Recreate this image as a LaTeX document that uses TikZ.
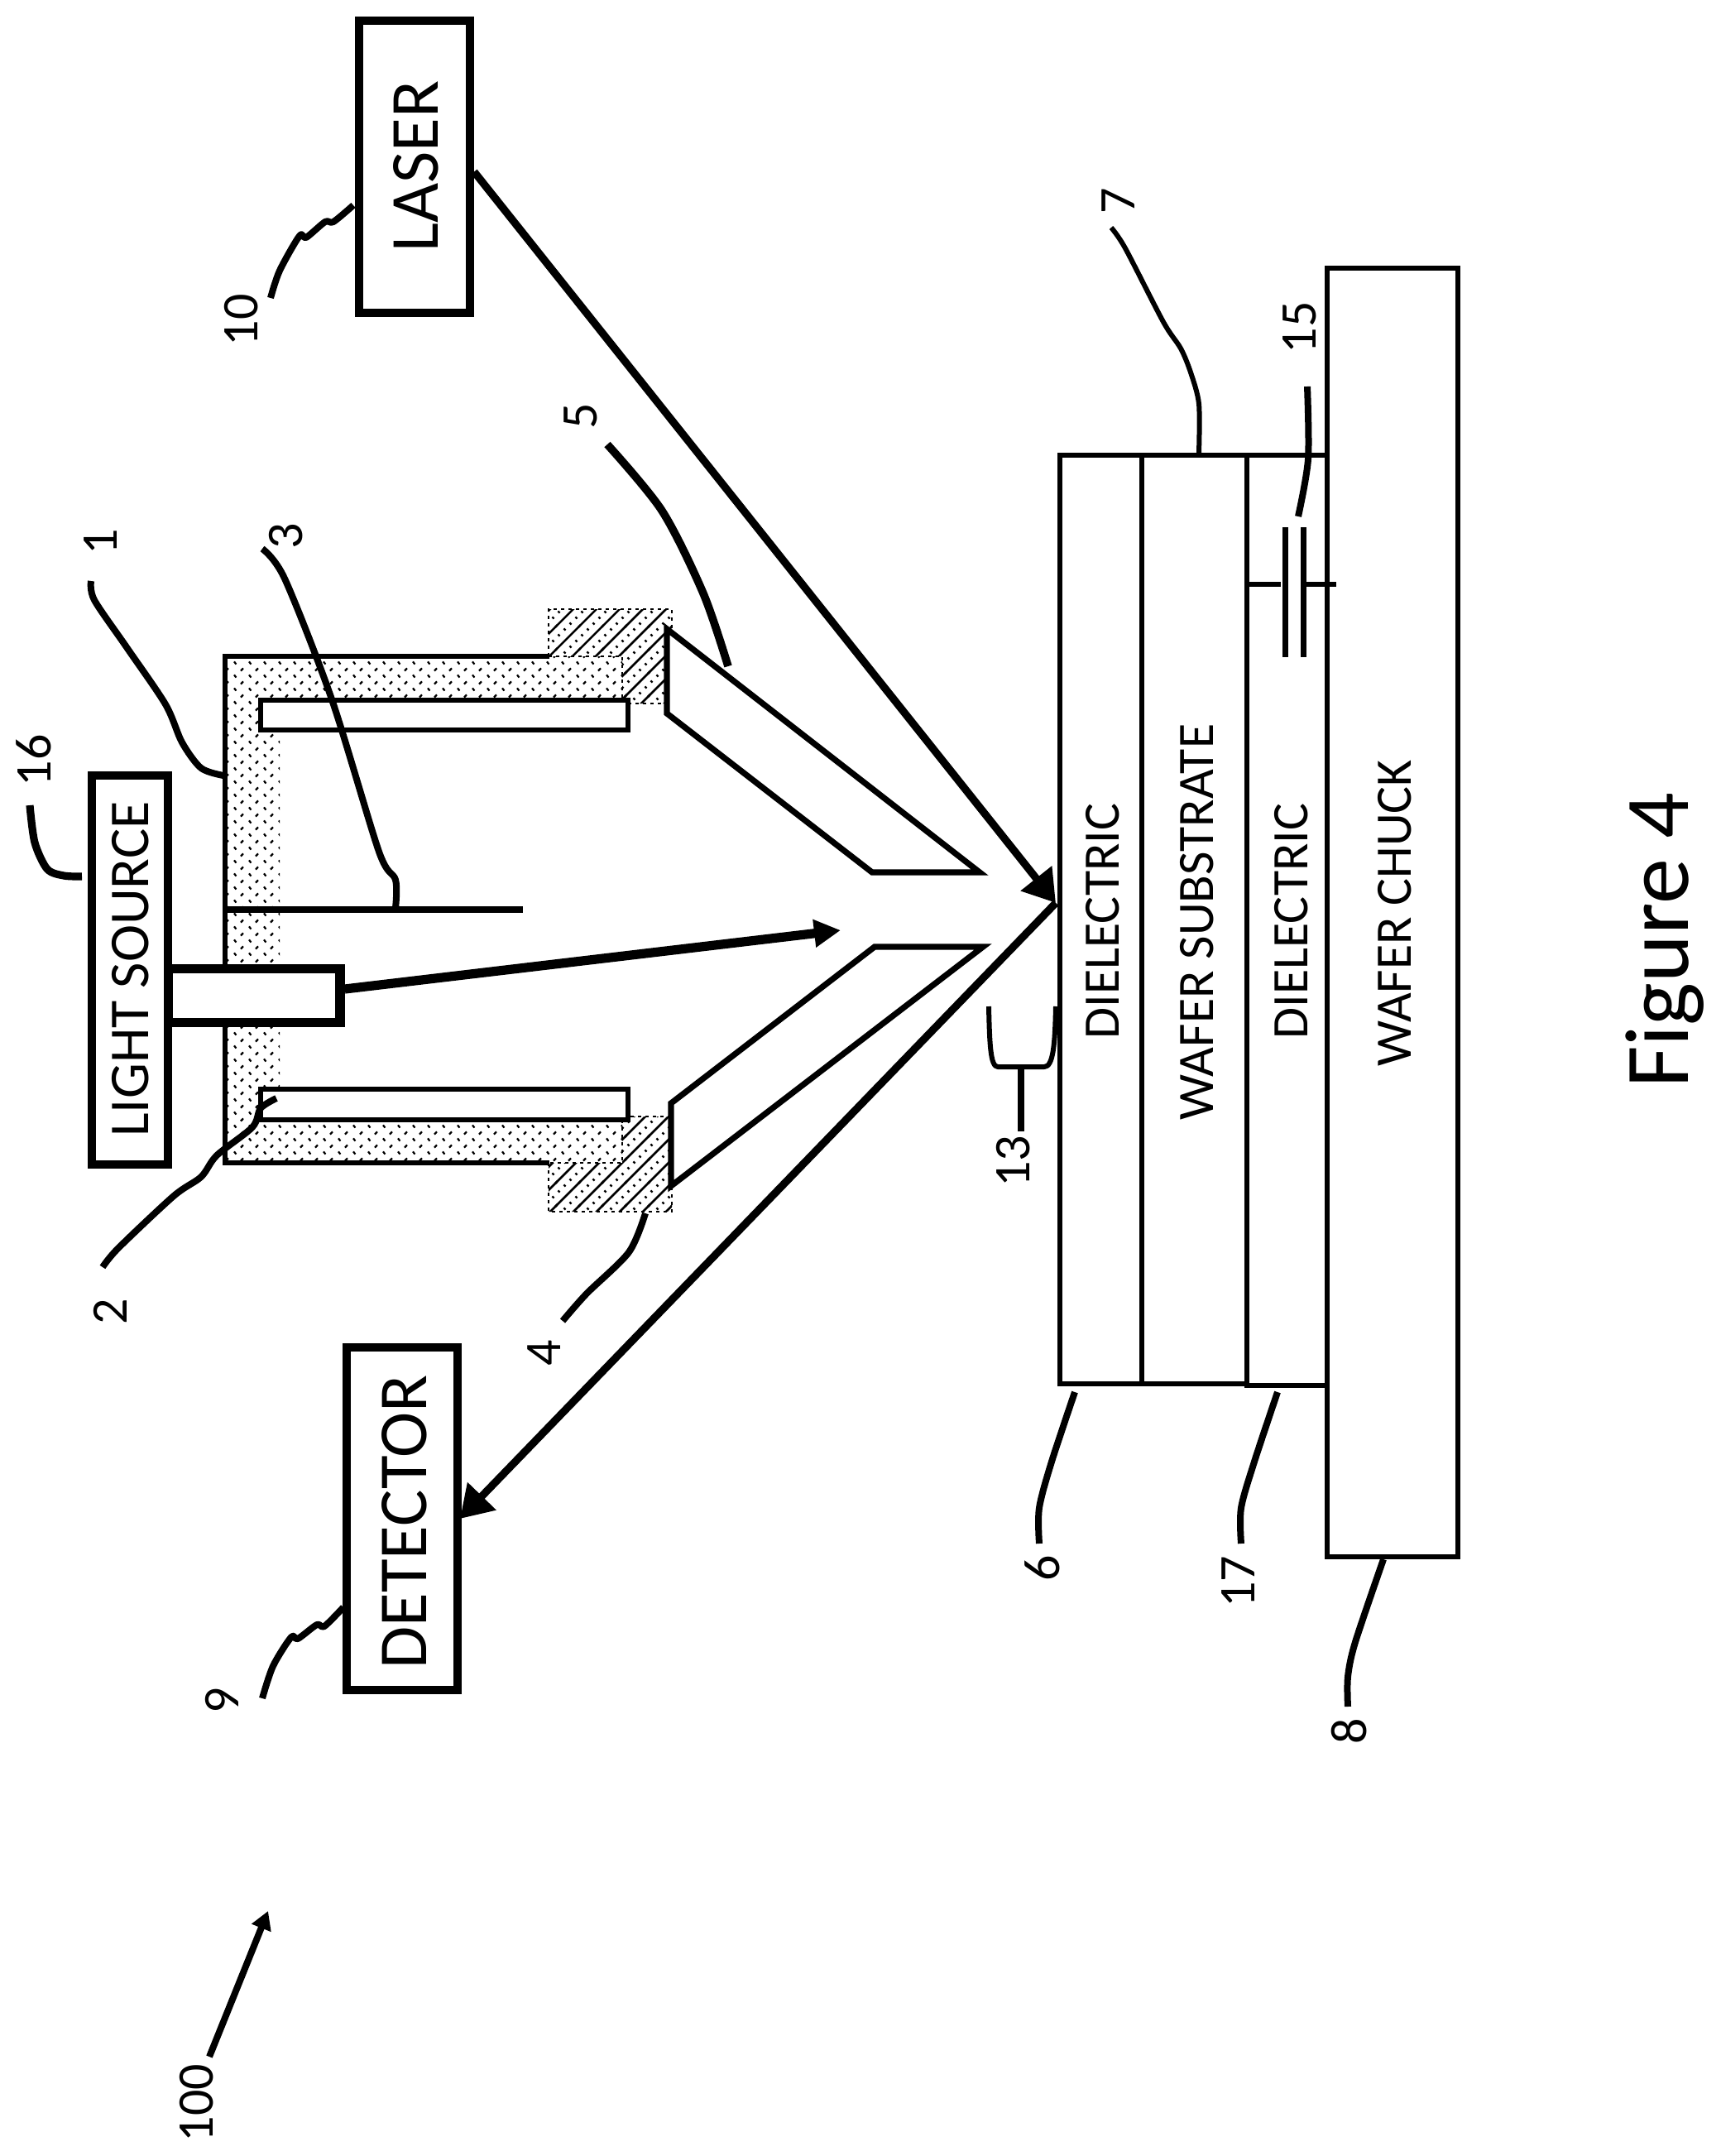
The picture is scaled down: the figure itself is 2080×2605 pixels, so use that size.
\documentclass[tikz,border=0pt]{standalone}
\usepackage{fontspec}
\setmainfont{Carlito}
\usetikzlibrary{arrows.meta,patterns}
\pgfdeclarepatternformonly{holderdots}{\pgfqpoint{-1pt}{-1pt}}{\pgfqpoint{10pt}{9pt}}{\pgfqpoint{9pt}{8pt}}{%
  \pgfsetlinewidth{1.1pt}%
  \pgfpathmoveto{\pgfqpoint{1.5pt}{1.2pt}}\pgfpathlineto{\pgfqpoint{3pt}{2.8pt}}%
  \pgfpathmoveto{\pgfqpoint{6.5pt}{6.8pt}}\pgfpathlineto{\pgfqpoint{7.7pt}{5.2pt}}%
  \pgfusepath{stroke}}
\pgfdeclarepatternformonly{clamphatch}{\pgfqpoint{-1pt}{-1pt}}{\pgfqpoint{15pt}{15pt}}{\pgfqpoint{14pt}{14pt}}{%
  \pgfsetlinewidth{1.25pt}%
  \pgfpathmoveto{\pgfqpoint{-1pt}{-1pt}}\pgfpathlineto{\pgfqpoint{15pt}{15pt}}\pgfusepath{stroke}%
  \pgfsetlinewidth{1.1pt}%
  \pgfpathmoveto{\pgfqpoint{8.2pt}{2.3pt}}\pgfpathlineto{\pgfqpoint{9.3pt}{1.2pt}}%
  \pgfpathmoveto{\pgfqpoint{11.7pt}{5.8pt}}\pgfpathlineto{\pgfqpoint{12.8pt}{4.7pt}}%
  \pgfpathmoveto{\pgfqpoint{1.2pt}{9.3pt}}\pgfpathlineto{\pgfqpoint{2.3pt}{8.2pt}}%
  \pgfpathmoveto{\pgfqpoint{4.7pt}{12.8pt}}\pgfpathlineto{\pgfqpoint{5.8pt}{11.7pt}}%
  \pgfusepath{stroke}}
\tikzset{
  wall/.style={draw=black,line width=3pt},
  nozzle/.style={draw=black,fill=white,line width=3.6pt,line join=miter},
  clampfill/.style={pattern=clamphatch,pattern color=black},
  clampedge/.style={draw=black,line width=1pt,dash pattern=on 2pt off 2.5pt},
  unitbox/.style={draw=black,fill=white,line width=5pt,rectangle,inner sep=0pt},
  layerbox/.style={draw=black,fill=white,line width=3.2pt,rectangle,inner sep=0pt},
  bigtxt/.style={rotate=90,anchor=base,inner sep=0pt,font=\fontsize{41.6}{50}\selectfont},
  lighttxt/.style={rotate=90,anchor=base,inner sep=0pt,font=\fontsize{34}{41}\selectfont},
  layertxt/.style={rotate=90,anchor=base,inner sep=0pt,font=\fontsize{30.9}{37}\selectfont},
  numtxt/.style={rotate=90,anchor=base,inner sep=0pt,font=\fontsize{31}{37}\selectfont},
  figtxt/.style={rotate=90,anchor=base,inner sep=0pt,font=\fontsize{55}{66}\selectfont},
  leader/.style={draw=black,line width=4pt,line cap=butt,line join=round},
  beam/.style={draw=black,line width=4.6pt,-{Triangle[length=19pt,width=23pt]}}
}
\begin{document}
\begin{tikzpicture}[x=0.5pt,y=-0.5pt]
\useasboundingbox (0,0) rectangle (2080,2605);
\fill[white] (0,0) rectangle (2080,2605);

% holder: dotted body
\fill[pattern=holderdots,pattern color=black] (272,793) rectangle (752,846);
\fill[pattern=holderdots,pattern color=black] (272,846) rectangle (338,1353);
\fill[pattern=holderdots,pattern color=black] (272,1353) rectangle (752,1405);
% clamps: hatched
\fill[clampfill] (663,736) -- (812,736) -- (812,850) -- (752,850) -- (752,793) -- (663,793) -- cycle;
\draw[clampedge] (663,793) -- (663,736) -- (812,736) -- (812,850) -- (752,850) -- (752,793) -- cycle;
\fill[clampfill] (663,1464) -- (812,1464) -- (812,1349) -- (752,1349) -- (752,1405) -- (663,1405) -- cycle;
\draw[clampedge] (663,1405) -- (663,1464) -- (812,1464) -- (812,1349) -- (752,1349) -- (752,1405) -- cycle;
\draw[wall,line join=miter] (664,793) -- (272,793) -- (272,1405) -- (664,1405);
% inner sleeves
\node[draw=black,fill=white,line width=3pt,rectangle,inner sep=0pt,minimum width=222pt,minimum height=18pt] (sleevetop) at (537,864) {};
\node[draw=black,fill=white,line width=3pt,rectangle,inner sep=0pt,minimum width=222pt,minimum height=18.5pt] (sleevebot) at (537,1334.5) {};
% focus nozzles
\draw[nozzle] (806,760) -- (1184,1054) -- (1054,1054) -- (806,862) -- cycle;
\draw[nozzle] (811,1333) -- (1057,1144) -- (1188,1144) -- (811,1433) -- cycle;
% electrode
\draw[draw=black,line width=3.8pt] (272,1099) -- (632,1099);

% light source
\node[draw=black,fill=white,line width=5.75pt,rectangle,inner sep=0pt,minimum width=104pt,minimum height=32.5pt] (tube) at (307,1203) {};
\node[unitbox,minimum width=46pt,minimum height=235pt] (light) at (157,1172) {};
\node[lighttxt] (lighttext) at (179,1171) {LIGHT SOURCE};
\draw[draw=black,line width=5.6pt,-{Triangle[length=16pt,width=16pt]}] ([yshift=4pt]tube.east) -- (1016,1124);

% laser and detector
\node[unitbox,minimum width=67pt,minimum height=176.5pt] (laser) at (501,201.5) {};
\node[bigtxt] (lasertext) at (529,201) {LASER};
\node[unitbox,minimum width=67pt,minimum height=207pt] (detector) at (486,1835) {};
\node[bigtxt] (detectortext) at (515,1839) {DETECTOR};

% wafer stack
\node[layerbox,minimum width=79pt,minimum height=778.5pt] (chuck) at (1683,1102.5) {};
\node[layerbox,minimum width=49.5pt,minimum height=561pt] (diel1) at (1330.5,1111) {};
\node[layerbox,minimum width=63.5pt,minimum height=561pt] (substrate) at (1443.5,1111) {};
\node[layerbox,minimum width=48.5pt,minimum height=562pt] (diel2) at (1555.5,1112) {};
\node[layertxt] (diel1text) at (1352.5,1113) {DIELECTRIC};
\node[layertxt] (subtext) at (1466,1114) {WAFER SUBSTRATE};
\node[layertxt] (diel2text) at (1580,1113) {DIELECTRIC};
\node[layertxt] (chucktext) at (1705,1103) {WAFER CHUCK};

% beams
\coordinate (spot) at (1276,1091);
\coordinate (dettip) at (556,1835);
\draw[beam] ([yshift=-3pt]laser.east) -- (spot);
\draw[beam] (spot) -- (dettip);

% capacitor
\draw[draw=black,line width=3pt] (diel2.west |- 0,706) -- (1548,706);
\draw[draw=black,line width=3.5pt] (1553,637) -- (1553,794);
\draw[draw=black,line width=3.5pt] (1575,637) -- (1575,794);
\draw[draw=black,line width=3pt] (1575,706) -- (1615,706);

% leaders
\draw[leader] plot[smooth,tension=0.5] coordinates {(1580,467) (1581,555) (1569,624)};
\draw[leader,line width=3pt] plot[smooth,tension=0.5] coordinates {(1449,547) (1449,488) (1439,450) (1427,421) (1406,389) (1360,300) (1343,275)};
\draw[leader] plot[smooth,tension=0.5] coordinates {(110,702) (114,725) (153,782) (200,851) (220,897) (243,928) (270,937)};
\draw[leader] plot[smooth,tension=0.5] coordinates {(317,663) (344,699) (401,845) (458,1029) (478,1063) (478,1097)};
\draw[leader,line width=4.6pt] plot[smooth,tension=0.5] coordinates {(36,973) (42,1018) (57,1050) (77,1058) (99,1059)};
\draw[leader] plot[smooth,tension=0.5] coordinates {(334,1327) (315,1339) (305,1362) (262,1396) (243,1422) (210,1445) (143,1508) (124,1531)};
\draw[leader] plot[smooth,tension=0.5] coordinates {(780,1466) (760,1513) (709,1563) (680,1596)};
\draw[leader,line width=4.8pt] plot[smooth,tension=0.5] coordinates {(734,537) (800,617) (850,717) (880,805)};
\draw[leader] plot[smooth,tension=0.5] coordinates {(327,360) (338,327) (362,285) (370,287) (393,268) (403,268) (427,248)};
\draw[leader] plot[smooth,tension=0.5] coordinates {(317,2052) (330,2013) (352,1978) (360,1980) (383,1963) (392,1965) (415,1942)};
\draw[leader] plot[smooth,tension=0.5] coordinates {(1299,1682) (1271,1766) (1256,1822) (1256,1865)};
\draw[leader] plot[smooth,tension=0.5] coordinates {(1544,1682) (1516,1766) (1500,1822) (1500,1865)};
\draw[leader] plot[smooth,tension=0.5] coordinates {(1672,1884) (1638,1984) (1629,2026) (1629,2062)};
% bracket 13
\draw[leader,line width=3pt,line join=round] (1195,1216) .. controls (1196,1262) and (1197,1289) .. (1206,1289) -- (1262,1289) .. controls (1273,1289) and (1275,1262) .. (1276,1216);
\draw[leader] plot[smooth,tension=0.5] coordinates {(1234,1289) (1234,1367)};

% arrow 100
\coordinate (hundredfoot) at (253,2485);
\coordinate (hundredtip) at (324,2309);
\draw[draw=black,line width=4pt,-{Triangle[length=11pt,width=12pt]}] (hundredfoot) -- (hundredtip);

% numbers
\node[numtxt] (n1) at (141,655) {1};
\node[numtxt] (n2) at (153,1585) {2};
\node[numtxt] (n3) at (365,648) {3};
\node[numtxt] (n4) at (677,1635) {4};
\node[numtxt] (n5) at (721,503) {5};
\node[numtxt] (n6) at (1280,1895) {6};
\node[numtxt] (n7) at (1371,243) {7};
\node[numtxt] (n8) at (1651,2092) {8};
\node[numtxt] (n9) at (288,2055) {9};
\node[numtxt] (n10) at (311,387) {10};
\node[numtxt] (n13) at (1244,1403) {13};
\node[numtxt] (n15) at (1590,396) {15};
\node[numtxt] (n16) at (61,919) {16};
\node[numtxt] (n17) at (1516,1911) {17};
\node[numtxt] (n100) at (257,2541) {100};
\node[figtxt] (figlabel) at (2040,1136) {Figure 4};
\end{tikzpicture}
\end{document}
